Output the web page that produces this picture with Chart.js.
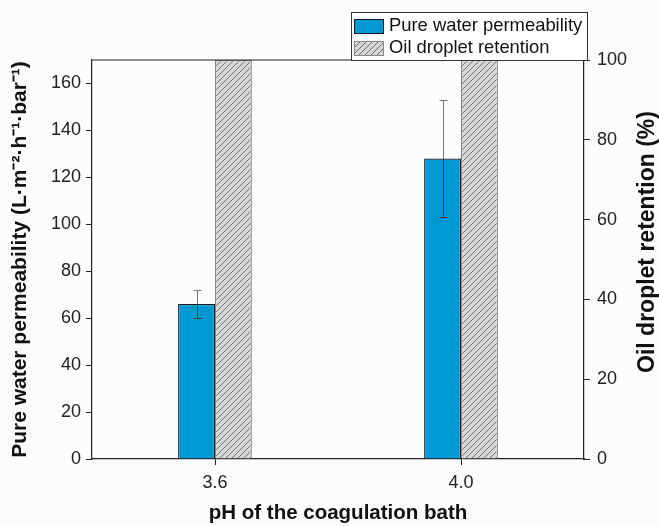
<!DOCTYPE html>
<html><head><meta charset="utf-8">
<script src="https://cdn.jsdelivr.net/npm/chart.js@4/dist/chart.umd.min.js"></script>
<style>html,body{margin:0;padding:0;background:#fcfcfc}#wrap{width:659px;height:526px}</style>
</head><body><div id="wrap"><canvas id="c" width="659" height="526"></canvas></div>
<script>
const categories = ['3.6', '4.0'];
const permeability = [66, 128];
const permeabilityErr = [6, 25];
const retention = [100, 100];
const leftTicks = [0, 20, 40, 60, 80, 100, 120, 140, 160];
const rightTicks = [0, 20, 40, 60, 80, 100];
const seriesNames = ['Pure water permeability', 'Oil droplet retention'];
const xTitle = 'pH of the coagulation bath';
const yTitle = 'Pure water permeability (L·m⁻²·h⁻¹·bar⁻¹)';
const y1Title = 'Oil droplet retention (%)';

const FONT = '"Liberation Sans", Arial, sans-serif';

function hatch() {
  const c = document.createElement('canvas');
  c.width = 6; c.height = 6;
  const g = c.getContext('2d');
  g.fillStyle = '#d6d6d6'; g.fillRect(0, 0, 6, 6);
  g.strokeStyle = '#555'; g.lineWidth = 0.8;
  g.beginPath();
  g.moveTo(-1, 7); g.lineTo(7, -1);
  g.moveTo(-4, 4); g.lineTo(4, -4);
  g.moveTo(2, 10); g.lineTo(10, 2);
  g.stroke();
  return g.createPattern(c, 'repeat');
}
const hatchPattern = hatch();

const framePlugin = {
  id: 'frame',
  afterDatasetsDraw(chart) {
    const ctx = chart.ctx, a = chart.chartArea;
    const meta = chart.getDatasetMeta(0);
    const ys = chart.scales.y;
    ctx.save();
    ctx.lineWidth = 1;
    meta.data.forEach((bar, i) => {
      const x = Math.round(bar.x) + 0.5;
      const top = Math.round(ys.getPixelForValue(permeability[i] + permeabilityErr[i])) + 0.5;
      const bot = Math.round(ys.getPixelForValue(permeability[i] - permeabilityErr[i])) + 0.5;
      const barTop = bar.y;
      ctx.strokeStyle = '#777';
      ctx.beginPath();
      ctx.moveTo(x, top); ctx.lineTo(x, barTop);
      ctx.moveTo(x - 4, top); ctx.lineTo(x + 4, top);
      ctx.stroke();
      ctx.strokeStyle = '#333';
      ctx.beginPath();
      ctx.moveTo(x, barTop); ctx.lineTo(x, bot);
      ctx.moveTo(x - 4, bot); ctx.lineTo(x + 4, bot);
      ctx.stroke();
    });
    ctx.strokeStyle = '#222'; ctx.lineWidth = 1.2;
    ctx.beginPath();
    ctx.moveTo(a.left, a.top); ctx.lineTo(a.right, a.top);
    ctx.stroke();
    ctx.restore();
  },
  afterDraw(chart) {
    const ctx = chart.ctx;
    ctx.save();
    ctx.translate(648, 242);
    ctx.rotate(-Math.PI / 2);
    ctx.fillStyle = '#111';
    ctx.font = 'bold 23px ' + FONT;
    ctx.textAlign = 'center';
    ctx.textBaseline = 'middle';
    ctx.fillText(y1Title, 0, 0);
    ctx.restore();

    ctx.save();
    const bx = 351, by = 12, bw = 236, bh = 48;
    ctx.fillStyle = '#ffffff';
    ctx.fillRect(bx, by, bw, bh);
    ctx.strokeStyle = '#333'; ctx.lineWidth = 1;
    ctx.strokeRect(bx + 0.5, by + 0.5, bw, bh);
    ctx.fillStyle = '#0098d4';
    ctx.fillRect(354, 19, 29, 14);
    ctx.strokeStyle = '#1a1a1a'; ctx.lineWidth = 1;
    ctx.strokeRect(354.5, 19.5, 29, 14);
    ctx.fillStyle = hatchPattern;
    ctx.fillRect(354, 41, 29, 14);
    ctx.strokeStyle = '#888';
    ctx.strokeRect(354.5, 41.5, 29, 14);
    ctx.fillStyle = '#111';
    ctx.font = '18.4px ' + FONT;
    ctx.textBaseline = 'middle';
    ctx.textAlign = 'left';
    ctx.fillText(seriesNames[0], 389, 26);
    ctx.fillText(seriesNames[1], 389, 48);
    ctx.restore();
  }
};

new Chart(document.getElementById('c'), {
  type: 'bar',
  data: {
    labels: categories,
    datasets: [
      { label: seriesNames[0], data: permeability, yAxisID: 'y',
        backgroundColor: '#0098d4', borderColor: '#1a1a1a', borderWidth: 1.2 },
      { label: seriesNames[1], data: retention, yAxisID: 'y1',
        backgroundColor: hatchPattern, borderColor: '#888', borderWidth: 1.2 }
    ]
  },
  options: {
    responsive: false,
    animation: false,
    devicePixelRatio: 1,
    layout: { padding: { top: 60, left: 0, right: 0, bottom: 0 } },
    datasets: { bar: { categoryPercentage: 0.3, barPercentage: 1.0 } },
    plugins: { legend: { display: false }, tooltip: { enabled: false } },
    scales: {
      x: {
        type: 'category',
        offset: true,
        grid: { display: true, offset: false, drawOnChartArea: false, drawTicks: true, tickLength: 6, color: '#222' },
        border: { display: true, color: '#222', width: 1.2 },
        ticks: { color: '#222', font: { family: FONT, size: 18 }, padding: 7 },
        title: { display: true, text: xTitle, color: '#111',
                 font: { family: FONT, size: 20.5, weight: 'bold' }, padding: { top: 5, bottom: 0 } },
        afterFit(s) { s.height = 67; }
      },
      y: {
        position: 'left',
        min: 0, max: 170,
        afterBuildTicks(s) { s.ticks = leftTicks.map(v => ({ value: v })); },
        grid: { display: true, drawOnChartArea: false, drawTicks: true, tickLength: 6, color: '#222' },
        border: { display: true, color: '#222', width: 1.2 },
        ticks: { color: '#222', font: { family: FONT, size: 18 }, padding: 5 },
        title: { display: true, text: yTitle, color: '#111',
                 font: { family: FONT, size: 21, weight: 'bold' }, padding: { top: 8, bottom: 4 } },
        afterFit(s) { s.width = 92; }
      },
      y1: {
        position: 'right',
        min: 0, max: 100,
        afterBuildTicks(s) { s.ticks = rightTicks.map(v => ({ value: v })); },
        grid: { display: true, drawOnChartArea: false, drawTicks: true, tickLength: 6, color: '#222' },
        border: { display: true, color: '#222', width: 1.2 },
        ticks: { color: '#222', font: { family: FONT, size: 18 }, padding: 7 },
        title: { display: false },
        afterFit(s) { s.width = 75; }
      }
    }
  },
  plugins: [framePlugin]
});
</script></body></html>
